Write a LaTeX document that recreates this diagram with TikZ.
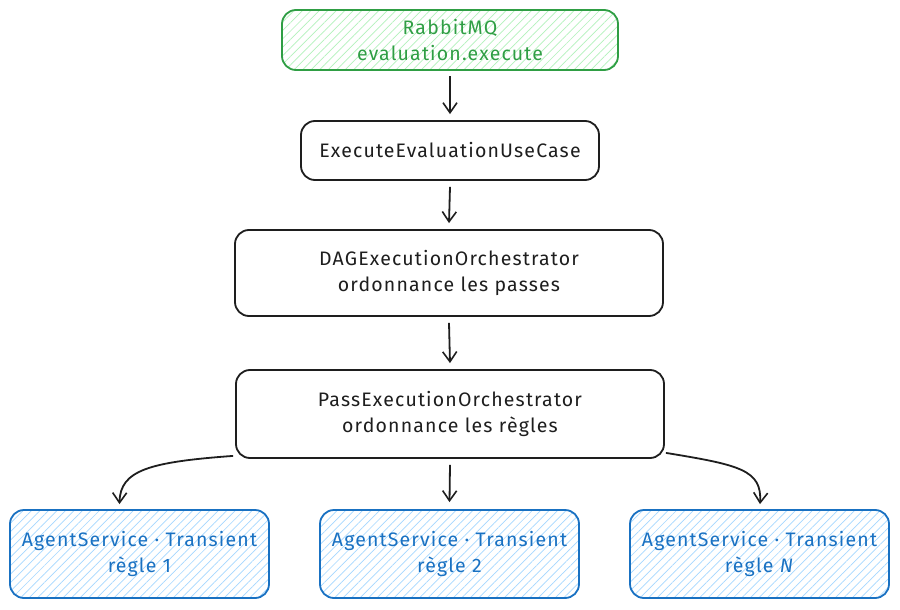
\documentclass[tikz,border=0pt]{standalone}
\usepackage{fontspec}
\setmainfont{Fira Sans}[LetterSpace=6]
\usetikzlibrary{arrows.meta,patterns.meta}
\definecolor{gstroke}{HTML}{2F9E44}
\definecolor{ghatch}{HTML}{B2F2BB}
\definecolor{bstroke}{HTML}{1971C2}
\definecolor{bhatch}{HTML}{A5D8FF}
\definecolor{ink}{HTML}{1E1E1E}
\tikzset{
  box/.style={draw=ink, line width=1.8pt, rounded corners=14pt, fill=white,
    minimum width=#1, inner sep=0pt, align=center, text=ink,
    font=\fontsize{19.5}{25.5}\selectfont},
  box/.default=300pt,
  greenbox/.style={box=#1, draw=gstroke, text=gstroke,
    pattern={Lines[angle=45,distance=6pt,line width=0.7pt]}, pattern color=ghatch},
  bluebox/.style={box=#1, draw=bstroke, text=bstroke,
    pattern={Lines[angle=45,distance=6pt,line width=0.7pt]}, pattern color=bhatch},
  conn/.style={draw=ink, line width=1.8pt, -{Straight Barb[length=10pt,width=14pt,line width=1.6pt]}},
}
\begin{document}
\begin{tikzpicture}[x=1pt,y=-1pt]
\useasboundingbox[fill=white] (0,0) rectangle (900,610);
\node[greenbox=336pt, minimum height=60pt] (rmq) at (450,40) {RabbitMQ\\evaluation.execute};
\node[box=298pt, minimum height=59pt] (uc) at (450,150.5) {ExecuteEvaluationUseCase};
\node[box=428pt, minimum height=86pt] (dag) at (449,273) {DAGExecutionOrchestrator\\ordonnance les passes};
\node[box=428pt, minimum height=88pt] (pass) at (450,414) {PassExecutionOrchestrator\\ordonnance les règles};
\node[bluebox=259pt, minimum height=88pt] (a1) at (139.5,554) {AgentService · Transient\\règle 1};
\node[bluebox=259pt, minimum height=88pt] (a2) at (449.5,554) {AgentService · Transient\\règle 2};
\node[bluebox=259pt, minimum height=88pt] (a3) at (759.5,554) {AgentService · Transient\\règle \textit{N}};

\draw[conn] ([yshift=-6pt]rmq.south) -- ([yshift=6pt]uc.north);
\draw[conn] ([yshift=-6pt]uc.south) -- ([yshift=6pt]dag.north);
\draw[conn] ([yshift=-6pt]dag.south) -- ([yshift=6pt]pass.north);
\draw[conn] ([yshift=-6pt]pass.south) -- ([yshift=7pt]a2.north);
\draw[conn] ([xshift=-2pt,yshift=3pt]pass.south west) .. controls (150,462) and (120,470) .. ([xshift=-20pt,yshift=5pt]a1.north);
\draw[conn] ([xshift=1pt,yshift=6pt]pass.south east) .. controls (740,465) and (762,470) .. ([xshift=0.5pt,yshift=5pt]a3.north);
\end{tikzpicture}
\end{document}
